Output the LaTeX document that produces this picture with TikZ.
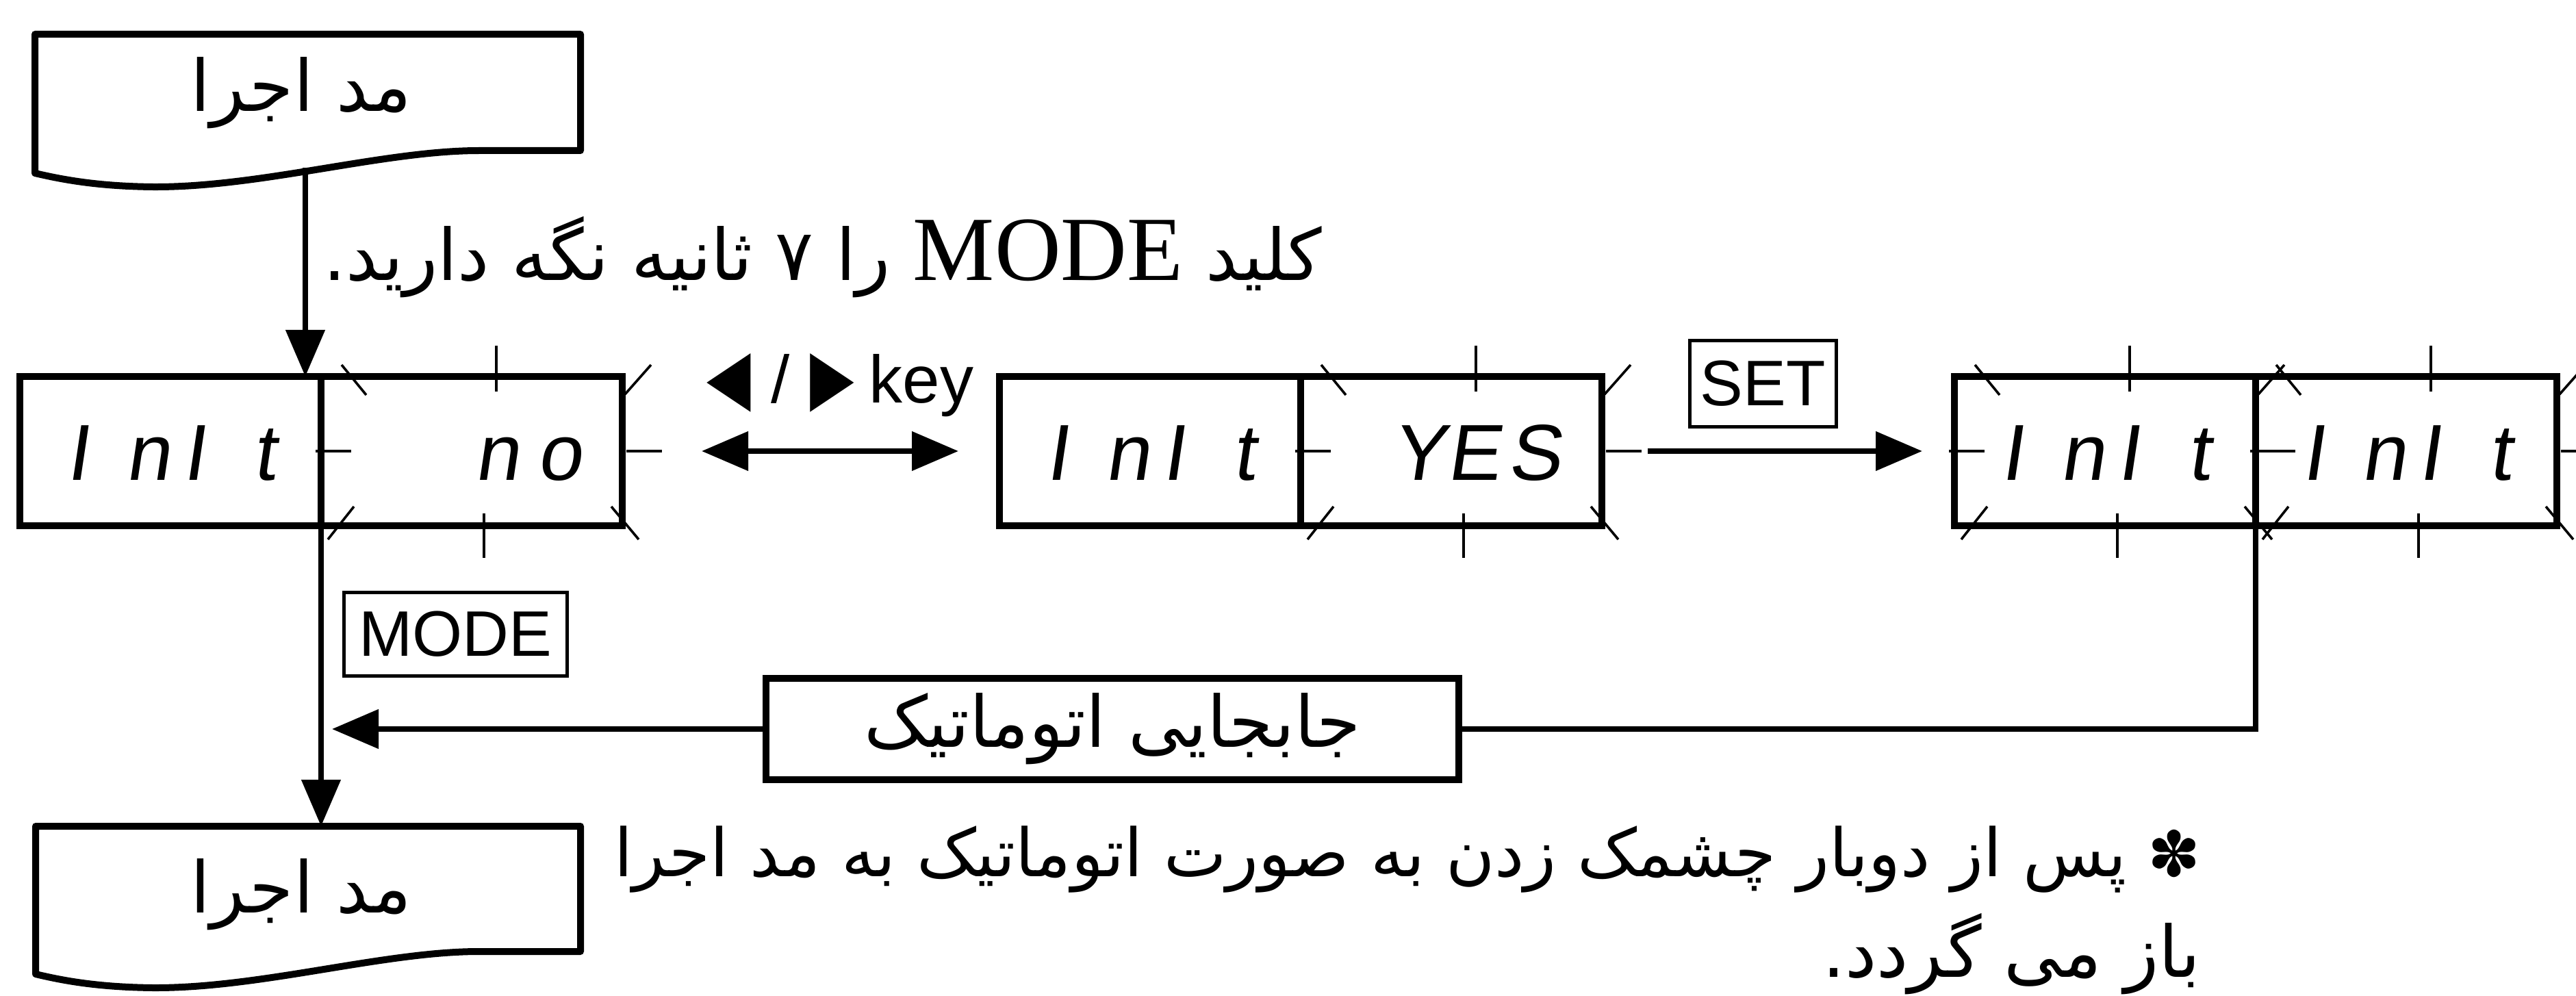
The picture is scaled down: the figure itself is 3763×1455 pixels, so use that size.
\documentclass[tikz,border=0pt]{standalone}
\usepackage{fontspec}
\setmainfont{Liberation Sans}
\newfontfamily\arabicfont[Script=Arabic]{DejaVu Sans}
\newfontfamily\seriffont{Liberation Serif}
\newfontfamily\trifont[FakeStretch=0.75]{DejaVu Sans}
\newfontfamily\segfont[FakeSlant=0.15]{Liberation Sans}
\TeXXeTstate=1
\usetikzlibrary{arrows.meta}

\tikzset{
  dispbox/.style={draw, line width=2.5pt, minimum width=110pt, minimum height=54.5pt, inner sep=0pt, outer sep=0pt,
    font=\segfont\fontsize{29}{29}\selectfont, text height=21pt, text depth=0pt},
  dispright/.style={dispbox, text width=80pt, align=right},
  keybox/.style={draw, line width=1.25pt, inner sep=0pt, outer sep=0pt, font=\fontsize{23.5}{23.5}\selectfont},
  autobox/.style={draw, line width=2.5pt, minimum width=253pt, minimum height=37pt, inner sep=0pt, outer sep=0pt},
  docline/.style={line width=2.5pt, line join=round},
  fa/.style={font=\arabicfont\fontsize{26}{30}\selectfont},
  conn/.style={line width=2pt},
  arr/.style={conn, -{Triangle[length=17pt,width=14pt]}},
  dblarr/.style={conn, {Triangle[length=17pt,width=14pt]}-{Triangle[length=17pt,width=14pt]}},
  tick/.style={line width=0.9pt},
}

% blinking marks round one half of a display (y grows downwards here)
\newcommand{\blinkmarks}[1]{%
  \draw[tick] ([xshift=7.5pt,yshift=-4.25pt]#1.north west) -- ([xshift=16.5pt,yshift=6.75pt]#1.north west);
  \draw[tick] ([xshift=9pt,yshift=-11.25pt]#1.north) -- ([xshift=9pt,yshift=5.5pt]#1.north);
  \draw[tick] ([xshift=1pt,yshift=6.5pt]#1.north east) -- ([xshift=10.5pt,yshift=-4.25pt]#1.north east);
  \draw[tick] ([xshift=-2pt]#1.west) -- ([xshift=11pt]#1.west);
  \draw[tick] ([xshift=1.5pt]#1.east) -- ([xshift=14.5pt]#1.east);
  \draw[tick] ([xshift=2.5pt,yshift=5pt]#1.south west) -- ([xshift=12pt,yshift=-7pt]#1.south west);
  \draw[tick] ([xshift=4.5pt,yshift=-4.5pt]#1.south) -- ([xshift=4.5pt,yshift=11.75pt]#1.south);
  \draw[tick] ([xshift=-4pt,yshift=-7pt]#1.south east) -- ([xshift=6pt,yshift=5pt]#1.south east);
}

\begin{document}
\begin{tikzpicture}[x=0.25pt,y=0.25pt,yscale=-1,xscale=1]
\useasboundingbox (0,0) rectangle (3763,1455);

%Shape: Document [top]
\draw[docline] (51,50) -- (848,50) -- (848,220) -- (700,220) .. controls (560,220) and (380,274) .. (223,273) .. controls (140,272) and (90,262) .. (51,253) -- cycle ;
% Text Node
\node[fa, anchor=base, inner sep=0pt] (runtxt) at (440,163) {\beginR مد اجرا\endR};
\coordinate (runout) at (446,245);

%Shape: Document [bottom]
\draw[docline] (52,1207) -- (848,1207) -- (848,1390) -- (700,1390) .. controls (560,1390) and (380,1444) .. (223,1443) .. controls (140,1442) and (90,1432) .. (52,1423) -- cycle ;
% Text Node
\node[fa, anchor=base, inner sep=0pt] (runbottxt) at (440,1333) {\beginR مد اجرا\endR};
\coordinate (runin) at (469,1207);

% Text Node
\node[fa, anchor=base west, inner sep=0pt] (holdtxt) at (472,410) {\beginR کلید {\seriffont\fontsize{33.5}{33.5}\selectfont\beginL MODE\endL} را ۷ ثانیه نگه دارید.\endR};

%Shape: Displays
\node[dispbox] (d1l) at (249,659) {I\hspace{.47em}n\hspace{.16em}I\hspace{.61em}t};
\node[dispright, anchor=west] (d1r) at (d1l.east) {n\hspace{.23em}o};
\node[dispbox] (d2l) at (1680,659) {I\hspace{.47em}n\hspace{.16em}I\hspace{.61em}t};
\node[dispright, anchor=west] (d2r) at (d2l.east) {Y\hspace{.02em}E\hspace{.1em}S};
\node[dispbox] (d3l) at (3075,659) {I\hspace{.47em}n\hspace{.16em}I\hspace{.61em}t};
\node[dispbox, anchor=west] (d3r) at (d3l.east) {I\hspace{.47em}n\hspace{.16em}I\hspace{.61em}t};

\blinkmarks{d1r}
\blinkmarks{d2r}
\blinkmarks{d3l}
\blinkmarks{d3r}

% Text Node
\node[anchor=base west, inner sep=0pt, font=\fontsize{24.5}{24.5}\selectfont] (arrowkey) at (1032,588) {{\trifont\fontsize{28}{28}\selectfont ◀}\hspace{.3em}/\hspace{.3em}{\trifont\fontsize{28}{28}\selectfont ▶}\hspace{.22em}key};
\node[keybox, minimum width=53.5pt, minimum height=31.25pt] (setkey) at (2575,560.5) {SET};
\node[keybox, minimum width=81.5pt, minimum height=30.5pt] (modekey) at (665,926) {MODE};

%Shape: Rectangle
\node[autobox, fa] (auto) at (1625,1065) {\beginR جابجایی اتوماتیک\endR};

% Text Node
\node[fa, font=\arabicfont\fontsize{24.3}{30}\selectfont, anchor=base east, inner sep=0pt] (note1) at (3215,1280) {\beginR {\fontsize{23}{23}\selectfont ✽} پس از دوبار چشمک زدن به صورت اتوماتیک به مد اجرا\endR};
\node[fa, anchor=base east, inner sep=0pt] (note2) at (3215,1427) {\beginR باز می گردد.\endR};

%Straight Lines
\draw[arr] (runout) -- (runout |- d1l.north);
\draw[arr] (d1l.south east) -- (runin);
\draw[dblarr, shorten <=29pt, shorten >=15pt] (d1r) -- (d2l);
\draw[arr, shorten <=16.75pt, shorten >=11.75pt] (d2r) -- (d3l);
\draw[conn] (d3l.south east) |- (auto.east);
\draw[arr, shorten >=4pt] (auto.west) -- (auto.west -| d1l.south east);
\end{tikzpicture}
\end{document}
